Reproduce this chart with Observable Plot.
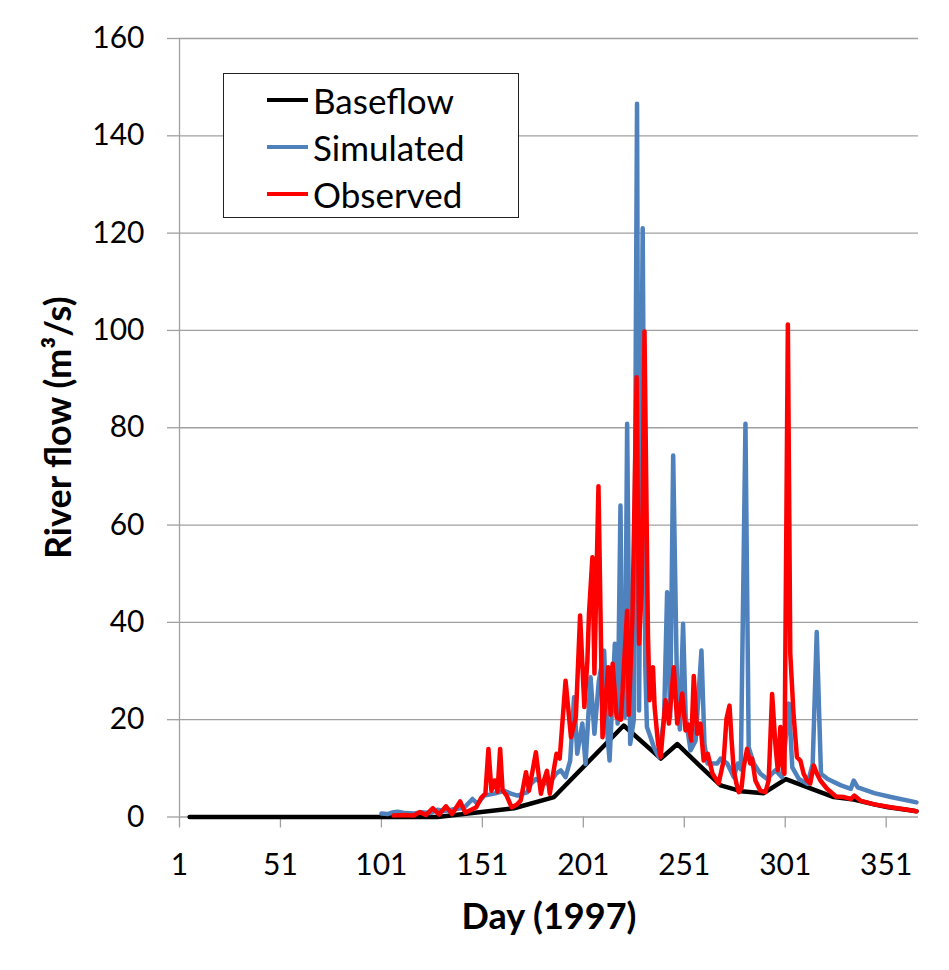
<!DOCTYPE html>
<html>
<head>
<meta charset="utf-8">
<script src="https://cdn.jsdelivr.net/npm/d3@7"></script>
<script src="https://cdn.jsdelivr.net/npm/@observablehq/plot@0.6"></script>
<style>
  html, body { margin: 0; padding: 0; background: #fff; }
  #wrap { position: relative; width: 949px; height: 970px; }
  #legend {
    position: absolute; left: 223px; top: 73px; width: 294px; height: 143px;
    border: 1.5px solid #222; background: #fff; box-sizing: content-box;
    font-family: Lato, "Open Sans", sans-serif; font-size: 35px; color: #000;
  }
  .row { position: absolute; left: 43px; height: 40px; display: flex; align-items: center; }
  .sw { width: 41px; height: 4px; margin-right: 5px; }
</style>
</head>
<body>
<div id="wrap"></div>
<script>
// ---- Data (day of year 1997, river flow m³/s) ----
const seriesNames = ["Baseflow", "Simulated", "Observed"];
const seriesColors = ["#000000", "#4F81BD", "#FF0000"];
const xTicks = [1, 51, 101, 151, 201, 251, 301, 351];
const yTicks = [0, 20, 40, 60, 80, 100, 120, 140, 160];

const baseflow = [
  [6,0],[128.8,0],[166.7,1.8],[186.5,4.1],[221,18.8],[239.4,12.0],[247.6,15.0],
  [259,10.4],[269,6.5],[279,5.3],[290.3,4.9],[301.3,7.8],[325,4.1],[335,3.6],
  [345,2.6],[352,2.0],[361,1.5],[366,1.2]
];

const simulated = [
  [101,0.7],[104,0.6],[107,1.0],[109,1.1],[113,0.8],[117,0.7],[120.5,1.0],[125,0.8],
  [128.8,1.5],[132,1.2],[137,1.6],[142,1.9],[146.1,3.7],[148.6,2.7],[151.9,4.4],
  [156.9,4.8],[161.8,5.4],[165.1,4.8],[168.4,4.4],[173.3,5.1],[175,6.8],[177.5,7.8],
  [180,7.2],[184,6.8],[187.5,8.9],[189.8,9.6],[192.2,8.2],[194.5,11.6],[196.4,24.6],
  [198,13],[200.5,19.2],[202.1,10.9],[204.6,28.7],[206.5,17.1],[208.7,28],[211.3,34.2],
  [212.9,17.1],[214,11.6],[215.5,25.3],[216.6,35.6],[218,19.2],[219.4,64],[220.3,27.4],
  [221.6,20.5],[222.7,80.8],[224.2,15],[226,20],[227.6,146.6],[228.6,21.9],[230.4,121],
  [231.7,30.8],[232.5,18.5],[234.3,16.4],[236,14.3],[238.5,12.3],[241,20.5],[242.5,46.2],
  [244,20.5],[245.5,74.3],[247.5,24],[248.8,18],[250.4,39.7],[251.7,20.5],[254.1,13.7],
  [256.6,15.7],[259.5,34.2],[261,15],[262.5,11],[265.5,11],[267.3,11],[269,12],
  [272.3,11],[275.5,8.2],[277.5,11],[279,9.8],[281.3,80.8],[282.9,14.3],[285.4,11],
  [288.7,8.9],[292,7.8],[296.1,9.6],[299.4,8.2],[302.8,23.3],[304.5,10.2],[307.8,7.8],
  [312,6.8],[314.6,10.9],[316.6,38],[318.7,8.9],[322,7.8],[328.6,6.5],[333.5,5.8],
  [334.9,7.5],[336.9,6.1],[345.1,4.9],[353.3,4.1],[366,3.0]
];

const observed = [
  [107,0.3],[112,0.4],[117,0.3],[120,1.0],[123,0.4],[126.5,1.8],[129.5,0.5],[133,2.2],
  [136,0.6],[140,3.2],[142.5,0.9],[145.5,1.5],[148,2.0],[150.5,4.0],[152.5,4.8],
  [154,14],[155.5,5.4],[157,7.5],[158.5,5.2],[159.8,14],[161,5.5],[163,4.4],[165.5,2.0],
  [168,2.5],[170,3.4],[172.6,9.2],[174.1,5.4],[177.5,13.3],[180,4.8],[181.5,7.5],
  [183,9.5],[184.4,4.8],[187.7,13],[189.3,12],[192.2,28],[194.9,16.4],[197.3,20.5],
  [199.4,41.4],[201.5,22.6],[203,32],[203.8,41.8],[205.5,53.4],[206.5,29.5],[208.5,68],
  [210.5,16.4],[213.3,30.8],[214.5,21],[215.5,31.5],[217.5,20.5],[219.6,20],[222.7,42.4],
  [223.5,21],[225.3,40.4],[227.4,90.4],[228.6,35.6],[229.9,46.5],[231.3,99.8],[233,37.7],
  [233.8,24],[235.5,30.8],[236.3,22.6],[238,15.1],[239.3,12.3],[241.7,24],[243.4,19.2],
  [245.8,30.8],[247.5,19.2],[250,25.4],[251.6,17.8],[253,19],[254.5,15.7],[255.7,29],
  [257.4,17.1],[259,19.2],[260.6,11.6],[262.6,13],[265,8.9],[268,6.9],[270.5,11.6],
  [271.9,20.2],[273.4,22.9],[274.4,16],[275.5,9.6],[276.8,6.9],[278,5.1],[279.4,6.1],
  [280.4,10.2],[282.1,14],[283.7,11],[284.6,12],[286.2,7.5],[288.7,5.4],[291.2,5.1],
  [292.8,7.5],[294.5,25.3],[296.1,15],[297.3,9.6],[298.6,18.5],[299.4,11],[300.6,8.9],
  [302.3,101.2],[303.5,33.6],[305.1,21.2],[306.8,12.3],[308.5,11.6],[310.1,8.9],
  [311.8,7.5],[313.4,6.9],[315.1,10.6],[316.7,8.9],[318.4,7.5],[321.7,5.8],[326.1,4.2],
  [330.2,4.1],[333.5,3.7],[335.2,4.4],[338.5,3.3],[345.1,2.6],[353.3,2.0],[361.6,1.5],
  [366,1.2]
];

const allSeries = [baseflow, simulated, observed];
const rows = allSeries.flatMap((s, i) => s.map(([day, value]) => ({series: seriesNames[i], day, value})));

const gridColor = "#a0a0a0";

const chart = Plot.plot({
  width: 949,
  height: 970,
  marginLeft: 179,
  marginRight: 31,
  marginTop: 38,
  marginBottom: 153.5,
  style: {fontFamily: "Lato, 'Open Sans', sans-serif", fontSize: "30px", color: "#000", background: "#fff"},
  x: {domain: [1, 367]},
  y: {domain: [0, 160]},
  color: {domain: seriesNames, range: seriesColors},
  marks: [
    Plot.ruleY(yTicks, {stroke: gridColor, strokeWidth: 1.3}),
    Plot.ruleX([xTicks[0]], {stroke: gridColor, strokeWidth: 1.3}),
    Plot.axisY(yTicks, {tickSize: 12, tickPadding: 23, stroke: gridColor, strokeOpacity: 1, strokeWidth: 1.3, fill: "#000", label: null, fontSize: 30}),
    Plot.axisX(xTicks, {tickSize: 11, tickPadding: 26, stroke: gridColor, strokeOpacity: 1, strokeWidth: 1.3, fill: "#000", label: null, fontSize: 30, tickFormat: d => String(d)}),
    Plot.line(rows, {x: "day", y: "value", z: "series", stroke: "series", strokeWidth: 4.5, strokeLinejoin: "round", strokeLinecap: "round"}),
    Plot.text(["River flow (m³/s)"], {frameAnchor: "left", textAnchor: "middle", lineAnchor: "middle", dx: -120, rotate: -90, fontWeight: "bold", fontSize: 36, fill: "#000"}),
    Plot.text(["Day (1997)"], {frameAnchor: "bottom", textAnchor: "middle", lineAnchor: "middle", dy: 100, fontWeight: "bold", fontSize: 36, fill: "#000"})
  ]
});

const wrap = document.getElementById("wrap");
wrap.appendChild(chart);

const legend = document.createElement("div");
legend.id = "legend";
seriesNames.forEach((name, i) => {
  const r = document.createElement("div");
  r.className = "row";
  r.style.top = (6 + i * 47) + "px";
  const sw = document.createElement("div");
  sw.className = "sw";
  sw.style.background = seriesColors[i];
  const t = document.createElement("span");
  t.textContent = name;
  r.appendChild(sw); r.appendChild(t);
  legend.appendChild(r);
});
wrap.appendChild(legend);
</script>
</body>
</html>
